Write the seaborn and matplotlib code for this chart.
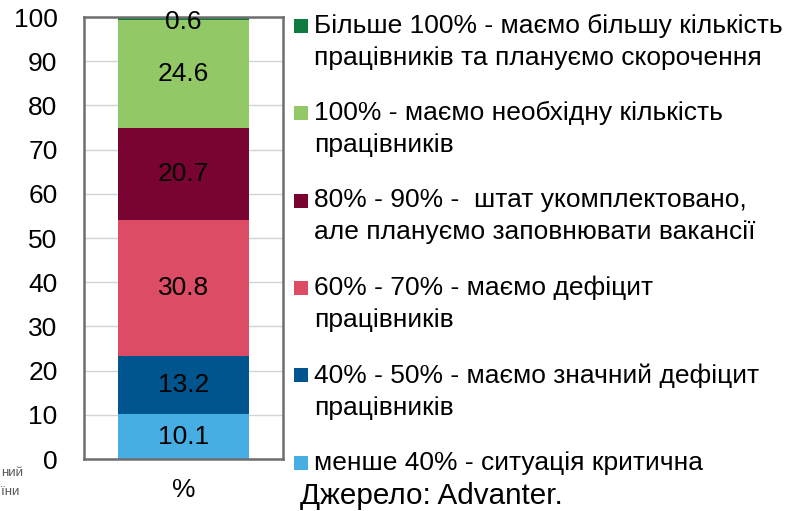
import matplotlib
matplotlib.use("Agg")
import matplotlib.pyplot as plt
import seaborn as sns
import pandas as pd
import numpy as np
from matplotlib.lines import Line2D

sns.set_theme(style="white")
plt.rcParams['font.family'] = ['Liberation Sans', 'DejaVu Sans']
plt.rcParams['text.color'] = 'black'

category = ["%"]
labels = [
    "менше 40% - ситуація критична",
    "40% - 50% - маємо значний дефіцит\nпрацівників",
    "60% - 70% - маємо дефіцит\nпрацівників",
    "80% - 90% -  штат укомплектовано,\nале плануємо заповнювати вакансії",
    "100% - маємо необхідну кількість\nпрацівників",
    "Більше 100% - маємо більшу кількість\nпрацівників та плануємо скорочення",
]
values = [10.1, 13.2, 30.8, 20.7, 24.6, 0.6]
colors = ["#47aee3", "#00558f", "#dc4c64", "#7a0431", "#92c865", "#0f7b41"]
yticks = [0, 10, 20, 30, 40, 50, 60, 70, 80, 90, 100]
source = "Джерело: Advanter."

fig = plt.figure(figsize=(7.88, 5.11), dpi=100)
ax = fig.add_axes([84/788, 1-459/511, (283-84)/788, (459-17)/511])

bottom = 0.0
for lab, val, col in zip(labels, values, colors):
    df = pd.DataFrame({"cat": category, "val": [val]})
    sns.barplot(data=df, x="cat", y="val", bottom=bottom, color=col,
                width=0.66, ax=ax, saturation=1, edgecolor="none", linewidth=0)
    ax.text(0, min(bottom + val / 2, 98.9), f"{val:.1f}", ha="center", va="center",
            fontsize=19, color="black")
    bottom += val

ax.set_ylim(0, 100)
ax.set_xlim(-0.5, 0.5)
ax.set_yticks(yticks)
ax.set_yticklabels([str(t) for t in yticks], fontsize=19, color="black")
ax.tick_params(axis="y", length=0, pad=19, labelcolor="black")
ax.tick_params(axis="x", length=0, pad=14, labelsize=19, labelcolor="black")
ax.set_xlabel("")
ax.set_ylabel("")
ax.yaxis.grid(True, color="#d0d5d8", linewidth=1)
ax.set_axisbelow(True)
for s in ax.spines.values():
    s.set_visible(True)
    s.set_color("#6e6e6e")
    s.set_linewidth(1.8)

handles = [Line2D([], [], linestyle="none", marker="s", markersize=10,
                  markerfacecolor=c, markeredgewidth=0) for c in colors][::-1]
leg = fig.legend(handles, labels[::-1], loc="upper left",
                 bbox_to_anchor=(294/788, 1 - 14/511), frameon=False,
                 fontsize=19, handlelength=0.55, handleheight=1.45,
                 handletextpad=0.2, labelspacing=1.18, borderpad=0,
                 borderaxespad=0, labelcolor="black")
for t in leg.get_texts():
    t.set_linespacing(1.42)
for col in leg._legend_handle_box.get_children():
    for item in col.get_children():
        item.align = "top"

fig.text(300/788, 1 - 496/511, source, fontsize=21.3, ha="left", va="center", color="black")
fig.text(1/788, 1 - 473/511, "ний", fontsize=9.5, ha="left", va="center", color="#5a5a5a")
fig.text(1/788, 1 - 492/511, "їни", fontsize=9.5, ha="left", va="center", color="#5a5a5a")

fig.savefig("out.png", dpi=100)
